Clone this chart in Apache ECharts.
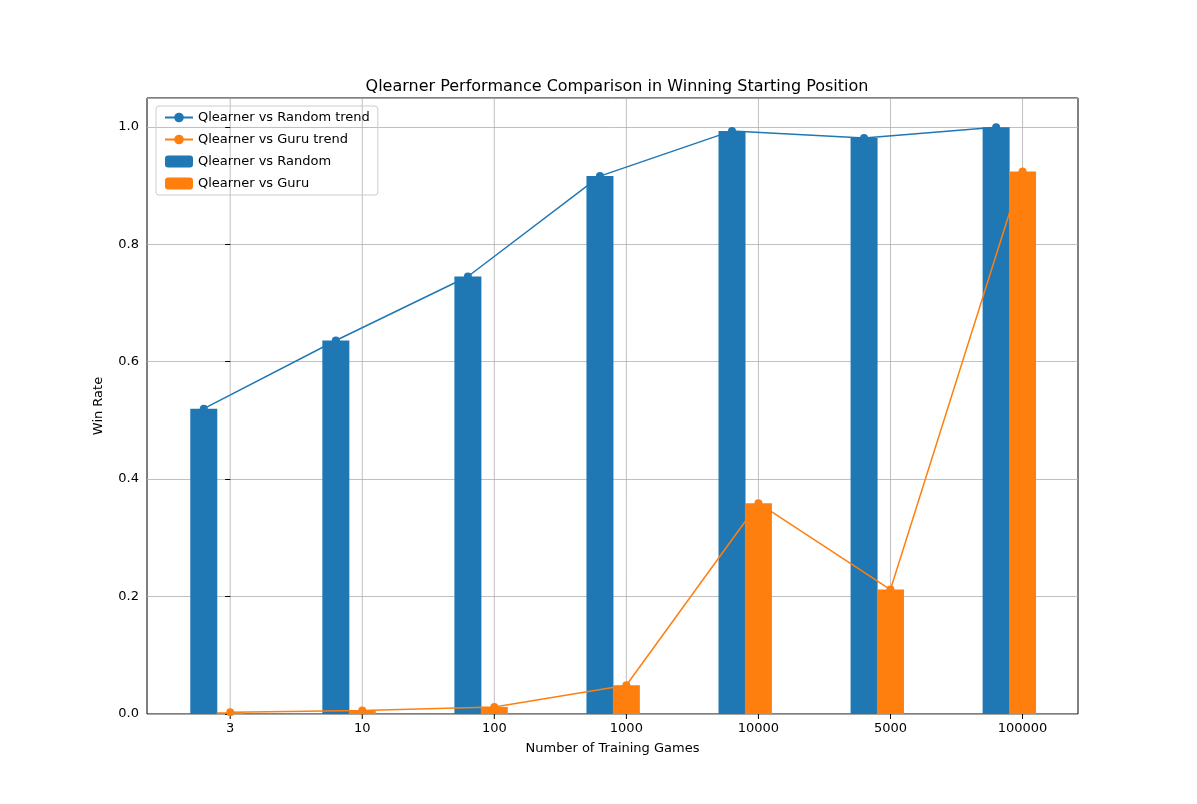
<!DOCTYPE html>
<html lang="en">
<head>
    <meta charset="UTF-8">
    <title>Qlearner Performance</title>
    <style>
        * { margin: 0; padding: 0; }
        html, body, #chart { width: 1197px; height: 804px; background: #fff; overflow: hidden; }
    </style>
</head>
<body>
    <div id="chart"></div>
    <script src="https://cdn.jsdelivr.net/npm/echarts@6/dist/echarts.min.js"></script>
    <script>
        const categories = ['3', '10', '100', '1000', '10000', '5000', '100000'];
        const vsRandom = [0.52, 0.636, 0.745, 0.916, 0.993, 0.981, 0.999];
        const vsGuru = [0.003, 0.006, 0.012, 0.049, 0.359, 0.212, 0.924];
        const yTicks = [0, 0.2, 0.4, 0.6, 0.8, 1.0];

        const blue = '#1f77b4', orange = '#ff7f0e';
        const font = 'DejaVu Sans';

        const randomPts = vsRandom.map((v, i) => [i - 0.2, v]);
        const guruPts = vsGuru.map((v, i) => [i, v]);

        // x tick labels + vertical grid lines, drawn through the axis scale
        function renderTick(params, api) {
            const i = api.value(0);
            const top = api.coord([i, 1.049]);
            const bot = api.coord([i, 0]);
            return {
                type: 'group',
                children: [
                    { type: 'line', shape: { x1: bot[0], y1: top[1], x2: bot[0], y2: bot[1] },
                      style: { stroke: '#b0b0b0', lineWidth: 0.8 }, z2: -10 },
                    { type: 'line', shape: { x1: bot[0], y1: bot[1], x2: bot[0], y2: bot[1] + 5 },
                      style: { stroke: '#000', lineWidth: 1 } },
                    { type: 'text', x: bot[0], y: bot[1] + 8,
                      style: { text: categories[i], fill: '#000', font: '13px ' + font,
                               align: 'center', verticalAlign: 'top' } }
                ]
            };
        }

        const chart = echarts.init(document.getElementById('chart'));
        chart.setOption({
            animation: false,
            title: {
                text: 'Qlearner Performance Comparison in Winning Starting Position',
                left: 612, top: 74, textAlign: 'center',
                textStyle: { fontFamily: font, fontSize: 16, fontWeight: 'normal', color: '#000' }
            },
            legend: {
                orient: 'vertical', left: 156, top: 106,
                data: ['Qlearner vs Random trend', 'Qlearner vs Guru trend', 'Qlearner vs Random', 'Qlearner vs Guru'],
                borderColor: '#ccc', borderWidth: 1, borderRadius: 3, padding: [5, 8],
                itemWidth: 28, itemHeight: 12, itemGap: 9,
                textStyle: { fontFamily: font, fontSize: 13, color: '#000' }
            },
            grid: { left: 147, right: 119, top: 98, bottom: 90, show: true, borderColor: '#000', borderWidth: 1 },
            xAxis: {
                type: 'value', min: -0.63, max: 6.42,
                name: 'Number of Training Games', nameLocation: 'middle', nameGap: 28,
                nameTextStyle: { fontFamily: font, fontSize: 13, color: '#000' },
                axisLabel: { show: false }, axisTick: { show: false }, splitLine: { show: false },
                axisLine: { show: false }
            },
            yAxis: {
                type: 'value', min: 0, max: 1.049, interval: 0.2,
                name: 'Win Rate', nameLocation: 'middle', nameGap: 42,
                nameTextStyle: { fontFamily: font, fontSize: 13, color: '#000' },
                axisLine: { show: false },
                axisTick: { show: true, length: 5, lineStyle: { color: '#000' } },
                axisLabel: {
                    fontFamily: font, fontSize: 13, color: '#000', showMaxLabel: false,
                    formatter: v => yTicks.some(t => Math.abs(t - v) < 1e-6) ? v.toFixed(1) : ''
                },
                splitLine: { lineStyle: { color: '#b0b0b0', width: 0.8 } }
            },
            series: [
                {
                    name: 'Qlearner vs Random', type: 'bar', data: randomPts, barWidth: 27,
                    itemStyle: { color: blue }, z: 2
                },
                {
                    name: 'Qlearner vs Guru', type: 'bar', data: guruPts, barWidth: 27, barGap: '-100%',
                    itemStyle: { color: orange }, z: 2
                },
                {
                    name: 'Qlearner vs Random trend', type: 'line', data: randomPts,
                    symbol: 'circle', symbolSize: 8, itemStyle: { color: blue },
                    lineStyle: { color: blue, width: 1.5 }, z: 5
                },
                {
                    name: 'Qlearner vs Guru trend', type: 'line', data: guruPts,
                    symbol: 'circle', symbolSize: 8, itemStyle: { color: orange },
                    lineStyle: { color: orange, width: 1.5 }, z: 5
                },
                {
                    type: 'custom', data: categories.map((c, i) => [i]), renderItem: renderTick,
                    clip: false, silent: true, z: 0, tooltip: { show: false }
                }
            ]
        });
    </script>
</body>
</html>
